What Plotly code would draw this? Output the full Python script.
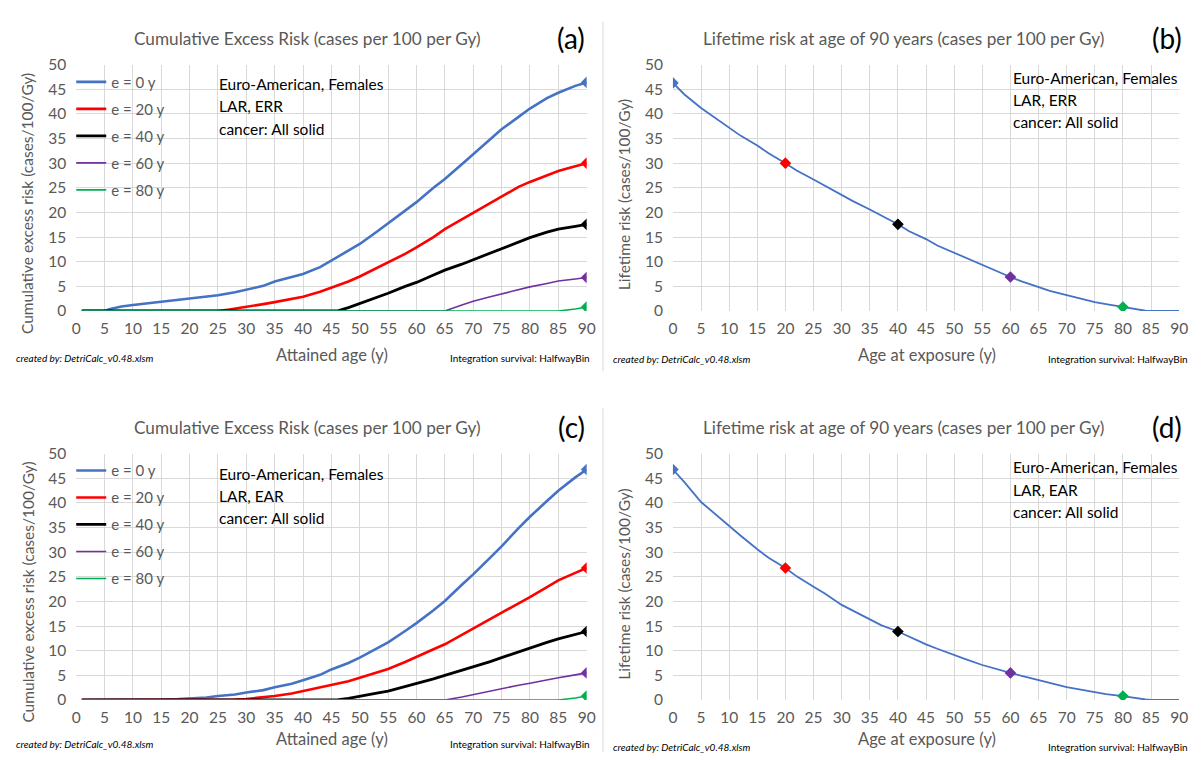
import plotly.graph_objects as go

# ---------------- data ----------------
# Panel (a): cumulative excess risk, ERR model (x = attained age)
ERR_AGE_E0 = [1, 5, 6, 8, 10, 13, 15, 18, 20, 23, 25, 28, 30, 33, 35, 38, 40, 43, 45, 48, 50, 53, 55, 58, 60, 63, 65, 68, 70, 73, 75, 78, 80, 83, 85, 88, 90]
ERR_E0 = [0, 0, 0.4, 0.9, 1.2, 1.6, 1.9, 2.3, 2.6, 2.9, 3.2, 3.8, 4.3, 5.1, 6.0, 6.9, 7.5, 8.9, 10.2, 12.2, 13.6, 16.1, 17.8, 20.4, 22.1, 25.0, 26.8, 29.8, 31.8, 34.8, 36.9, 39.4, 41.1, 43.2, 44.3, 45.7, 46.4]
ERR_AGE_E20 = [1, 25, 27, 30, 33, 35, 38, 40, 43, 45, 48, 50, 53, 55, 58, 60, 63, 65, 68, 70, 73, 75, 78, 80, 83, 85, 88, 90]
ERR_E20 = [0, 0, 0.3, 0.8, 1.4, 1.8, 2.5, 2.9, 3.9, 4.7, 6.0, 7.0, 8.7, 9.9, 11.6, 12.9, 15.0, 16.6, 18.6, 19.9, 22.0, 23.2, 25.2, 26.2, 27.6, 28.4, 29.4, 30.0]
ERR_AGE_E40 = [1, 46, 48, 50, 53, 55, 58, 60, 63, 65, 68, 70, 73, 75, 78, 80, 83, 85, 88, 90]
ERR_E40 = [0, 0, 0.7, 1.5, 2.8, 3.6, 5.0, 5.8, 7.3, 8.3, 9.5, 10.4, 11.9, 12.7, 14.1, 14.9, 16.0, 16.6, 17.2, 17.6]
ERR_AGE_E60 = [1, 65, 68, 70, 73, 75, 78, 80, 83, 85, 88, 90]
ERR_E60 = [0, 0, 1.2, 2.0, 2.9, 3.5, 4.4, 4.9, 5.6, 6.1, 6.5, 6.8]
ERR_AGE_E80 = [1, 85, 88, 90]
ERR_E80 = [0, 0, 0.4, 0.8]

# Panel (c): cumulative excess risk, EAR model
EAR_AGE_E0 = [1, 12, 15, 18, 20, 23, 25, 28, 30, 33, 35, 38, 40, 43, 45, 48, 50, 53, 55, 58, 60, 63, 65, 68, 70, 73, 75, 78, 80, 83, 85, 88, 90]
EAR_E0 = [0, 0, 0.1, 0.2, 0.3, 0.5, 0.8, 1.1, 1.5, 2.0, 2.6, 3.3, 4.0, 5.1, 6.2, 7.5, 8.6, 10.4, 11.7, 14.0, 15.6, 18.2, 20.1, 23.4, 25.5, 28.9, 31.2, 34.9, 37.2, 40.4, 42.5, 45.2, 46.8]
EAR_AGE_E20 = [1, 25, 28, 30, 33, 35, 38, 40, 43, 45, 48, 50, 53, 55, 58, 60, 63, 65, 68, 70, 73, 75, 78, 80, 83, 85, 88, 90]
EAR_E20 = [0, 0, 0.1, 0.2, 0.5, 0.8, 1.3, 1.8, 2.5, 3.0, 3.8, 4.5, 5.6, 6.3, 7.7, 8.8, 10.3, 11.3, 13.2, 14.5, 16.4, 17.8, 19.7, 20.9, 22.9, 24.3, 25.8, 26.8]
EAR_AGE_E40 = [1, 46, 48, 50, 53, 55, 58, 60, 63, 65, 68, 70, 73, 75, 78, 80, 83, 85, 88, 90]
EAR_E40 = [0, 0, 0.3, 0.8, 1.4, 1.8, 2.7, 3.3, 4.3, 5.0, 6.0, 6.7, 7.8, 8.6, 9.8, 10.6, 11.7, 12.4, 13.3, 13.9]
EAR_AGE_E60 = [1, 65, 68, 70, 73, 75, 78, 80, 83, 85, 88, 90]
EAR_E60 = [0, 0, 0.6, 1.1, 1.8, 2.3, 3.0, 3.4, 4.1, 4.5, 5.1, 5.5]
EAR_AGE_E80 = [1, 85, 88, 90]
EAR_E80 = [0, 0, 0.4, 0.8]

# Panels (b), (d): lifetime risk at age 90 vs age at exposure
LT_AGE = [0, 2, 5, 8, 10, 12, 15, 17, 20, 22, 25, 27, 30, 32, 35, 37, 40, 42, 45, 47, 50, 52, 55, 57, 60, 62, 65, 67, 70, 72, 75, 77, 80, 82, 84, 85, 90]
LT_ERR = [46.3, 44.0, 41.2, 38.8, 37.1, 35.6, 33.6, 32.0, 30.0, 28.5, 26.7, 25.4, 23.6, 22.3, 20.6, 19.4, 17.6, 16.2, 14.6, 13.3, 11.8, 10.8, 9.3, 8.3, 6.9, 6.0, 4.9, 4.1, 3.2, 2.6, 1.8, 1.4, 0.8, 0.35, 0.05, 0, 0]
LT_EAR = [46.8, 44.3, 40.2, 37.2, 35.3, 33.4, 30.6, 28.9, 26.8, 25.1, 23.0, 21.6, 19.3, 18.1, 16.4, 15.2, 13.9, 12.8, 11.3, 10.4, 9.1, 8.3, 7.1, 6.4, 5.5, 4.9, 4.0, 3.4, 2.6, 2.2, 1.6, 1.2, 0.8, 0.4, 0.1, 0, 0]

EXPOSURE_AGES = [0, 20, 40, 60, 80]
LEGEND_LABELS = ["e = 0 y", "e = 20 y", "e = 40 y", "e = 60 y", "e = 80 y"]
X_TICKS = list(range(0, 91, 5))
Y_TICKS = list(range(0, 51, 5))

# ---------------- styling ----------------
COLORS = ["#4472C4", "#FF0000", "#000000", "#7030A0", "#00B050"]
WIDTHS = [2.6, 2.6, 2.8, 1.6, 1.6]
FONT = "Lato"
GREY = "#595959"
W, H = 1201, 760


def fx(p):
    return p / W


def fy(p):
    return 1 - p / H


fig = go.Figure()

cum_err = [(ERR_AGE_E0, ERR_E0), (ERR_AGE_E20, ERR_E20), (ERR_AGE_E40, ERR_E40),
           (ERR_AGE_E60, ERR_E60), (ERR_AGE_E80, ERR_E80)]
cum_ear = [(EAR_AGE_E0, EAR_E0), (EAR_AGE_E20, EAR_E20), (EAR_AGE_E40, EAR_E40),
           (EAR_AGE_E60, EAR_E60), (EAR_AGE_E80, EAR_E80)]

for series, xa, ya, leg in [(cum_err, "x", "y", "legend"), (cum_ear, "x3", "y3", "legend2")]:
    for i, (ages, vals) in enumerate(series):
        fig.add_trace(go.Scatter(
            x=ages, y=vals, mode="lines", name=LEGEND_LABELS[i],
            line=dict(color=COLORS[i], width=WIDTHS[i]),
            xaxis=xa, yaxis=ya, legend=leg, legendgroup=f"{leg}{i}",
            hoverinfo="skip"))
    for i, (ages, vals) in enumerate(series):
        fig.add_trace(go.Scatter(
            x=[ages[-1]], y=[vals[-1]], mode="markers", showlegend=False,
            marker=dict(symbol="diamond", size=9, color=COLORS[i]),
            xaxis=xa, yaxis=ya, hoverinfo="skip"))

for lt, xa, ya in [(LT_ERR, "x2", "y2"), (LT_EAR, "x4", "y4")]:
    fig.add_trace(go.Scatter(
        x=LT_AGE, y=lt, mode="lines", showlegend=False,
        line=dict(color=COLORS[0], width=1.8),
        xaxis=xa, yaxis=ya, hoverinfo="skip"))
    for i, e in enumerate(EXPOSURE_AGES):
        fig.add_trace(go.Scatter(
            x=[e], y=[lt[LT_AGE.index(e)]], mode="markers", showlegend=False,
            marker=dict(symbol="diamond", size=9, color=COLORS[i]),
            xaxis=xa, yaxis=ya, hoverinfo="skip"))

axis_common = dict(showgrid=True, gridcolor="#d9d9d9", gridwidth=1, zeroline=False,
                   showline=False, ticks="", tickfont=dict(family=FONT, size=15.5, color=GREY),
                   fixedrange=True)

panels = {
    "": ((72, 588.5), (56, 308.3)),
    "2": ((675.8, 1188), (56, 308.3)),
    "3": ((72, 588.5), (454.5, 706.7)),
    "4": ((675.8, 1188), (454.5, 706.7)),
}
for k, ((x0, x1), (y0, y1)) in panels.items():
    fig.layout["xaxis" + k] = dict(axis_common, domain=[fx(x0), fx(x1)], range=[0, 90],
                                   tickvals=X_TICKS, anchor="y" + k, ticklabelstandoff=7)
    fig.layout["yaxis" + k] = dict(axis_common, domain=[fy(y1), fy(y0)], range=[0, 50],
                                   tickvals=Y_TICKS, anchor="x" + k, ticklabelstandoff=9)

annotations = []


def text(x, y, s, size, color, xanchor="center", angle=0, italic=False):
    annotations.append(dict(
        x=fx(x), y=fy(y), xref="paper", yref="paper", text=s, showarrow=False,
        xanchor=xanchor, yanchor="middle", textangle=angle,
        font=dict(family=FONT, size=size, color=color,
                  style="italic" if italic else "normal")))


TITLE_A = "Cumulative Excess Risk (cases per 100 per Gy)"
TITLE_B = "Lifetime risk at age of 90 years (cases per 100 per Gy)"
for (xc, yt, title, tag) in [(306, 29, TITLE_A, "(a)"), (909, 29, TITLE_B, "(b)"),
                             (306, 427.5, TITLE_A, "(c)"), (909, 427.5, TITLE_B, "(d)")]:
    text(xc, yt, title, 17.2, GREY)
    text(573 if tag in ("(a)", "(c)") else 1176, yt, tag, 28, "#000000")

for (xc, yt, s) in [(331, 353, "Attained age (y)"), (933, 353, "Age at exposure (y)"),
                    (331, 747, "Attained age (y)"), (933, 747, "Age at exposure (y)")]:
    text(xc, yt, s, 16.5, GREY)

for (xc, yc, s) in [(23, 198, "Cumulative excess risk (cases/100/Gy)"),
                    (626, 189, "Lifetime risk (cases/100/Gy)"),
                    (23, 596, "Cumulative excess risk (cases/100/Gy)"),
                    (626, 588, "Lifetime risk (cases/100/Gy)")]:
    text(xc, yc, s, 15.5, GREY, angle=-90)

for (x0, y0, model) in [(214, 76, "ERR"), (1018, 69.5, "ERR"), (214, 475, "EAR"), (1018, 468.5, "EAR")]:
    for j, s in enumerate(["Euro-American, Females", f"LAR, {model}", "cancer: All solid"]):
        text(x0, y0 + j * 22.8, s, 15.5, "#000000", xanchor="left")

for (xl, xr, yc) in [(9, 594, 356), (613, 1199, 357), (9, 594, 752), (613, 1199, 755)]:
    text(xl, yc, "created by: DetriCalc_v0.48.xlsm", 10, "#000000", xanchor="left", italic=True)
    text(xr, yc, "Integration survival: HalfwayBin", 10, "#000000", xanchor="right")

legend_common = dict(bgcolor="rgba(0,0,0,0)", borderwidth=0, xanchor="left", yanchor="top",
                     font=dict(family=FONT, size=15, color=GREY), tracegroupgap=4.5,
                     itemwidth=30)
fig.update_layout(
    width=W, height=H, margin=dict(l=0, r=0, t=0, b=0),
    paper_bgcolor="white", plot_bgcolor="white",
    annotations=annotations,
    legend=dict(legend_common, x=fx(67), y=fy(57)),
    legend2=dict(legend_common, x=fx(67), y=fy(455)),
    shapes=[
        dict(type="line", xref="paper", yref="paper", x0=fx(605), x1=fx(605), y0=fy(12), y1=fy(370),
             line=dict(color="#d9d9d9", width=1)),
        dict(type="line", xref="paper", yref="paper", x0=fx(605), x1=fx(605), y0=fy(408), y1=fy(760),
             line=dict(color="#d9d9d9", width=1)),
    ],
)

fig.write_html("out.html", config={"displayModeBar": False},
               post_script="document.body.style.margin='0';document.body.style.overflow='hidden';")
